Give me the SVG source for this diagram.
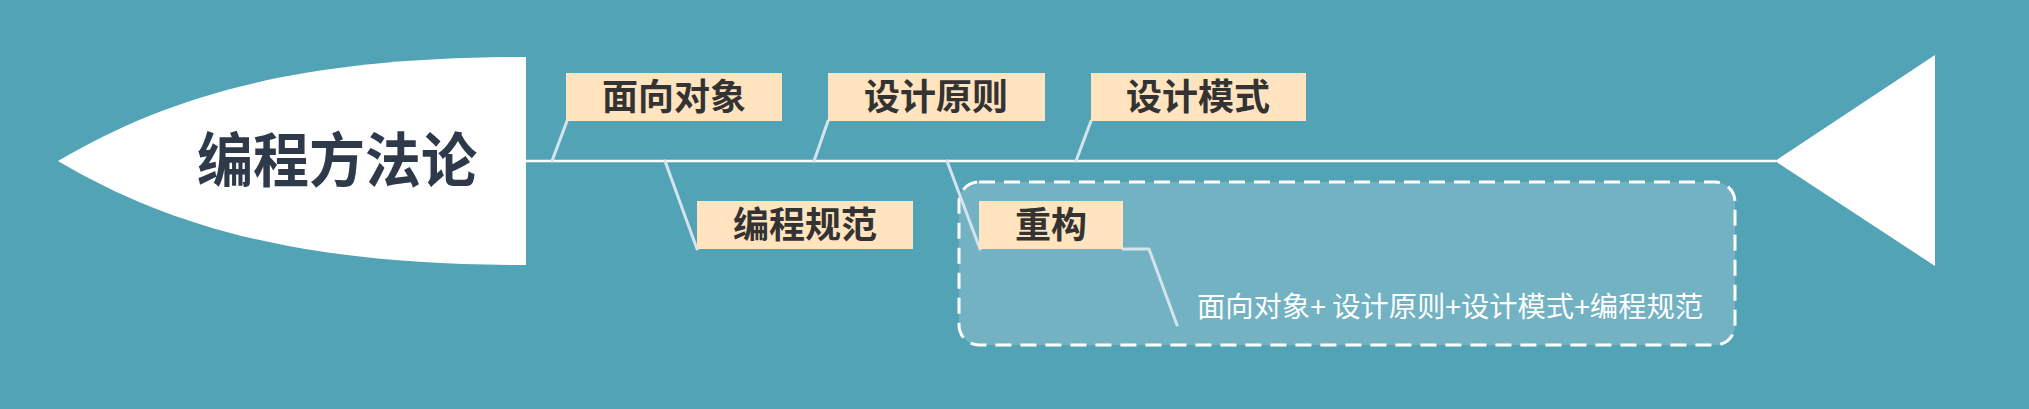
<svg xmlns="http://www.w3.org/2000/svg" width="2029" height="409" viewBox="0 0 2029 409">
<style>
.lbl{fill:#FFE4BF}
.lt{font-family:"Noto Sans CJK SC","Noto Sans",sans-serif;font-weight:700;font-size:36px;fill:#333333;text-anchor:middle}
.conn{stroke:#D4E4EC;stroke-width:3;fill:none;stroke-linecap:round;stroke-linejoin:round}
</style>
<rect x="0" y="0" width="2029" height="409" fill="#52A3B5"/>
<g id="head">
<path d="M58,161 C170,95 300,57 526,57 L526,265 C300,265 170,227 58,161 Z" fill="#FFFFFF"/>
<text x="197" y="182" font-family="Noto Sans CJK SC, sans-serif" font-weight="700" font-size="59" fill="#2E3A4A" textLength="280" lengthAdjust="spacingAndGlyphs">编程方法论</text>
</g>
<g id="spine">
<line x1="526" y1="161" x2="1776" y2="161" stroke="#FFFFFF" stroke-width="2.5"/>
</g>
<g id="tail">
<polygon points="1775,161 1935,55 1935,266" fill="#FFFFFF"/>
</g>
<g id="refactor-area">
<rect x="959" y="182" width="776" height="163" rx="20" ry="20" fill="#72B2C2" stroke="#FFFFFF" stroke-width="3" stroke-dasharray="16 9"/>
<text x="1197" y="317" font-family="Noto Sans CJK SC, sans-serif" font-size="28" fill="#FFFFFF" textLength="506" lengthAdjust="spacingAndGlyphs">面向对象+ 设计原则+设计模式+编程规范</text>
</g>
<g id="connectors">
<path class="conn" d="M567,121 L552,161"/>
<path class="conn" d="M828,121 L814,161"/>
<path class="conn" d="M1091,121 L1076,161"/>
<path class="conn" d="M665,161 L697,249"/>
<path class="conn" d="M947,161 L980,249"/>
<path class="conn" d="M1123,249 L1149,249 L1177,325"/>
</g>
<g id="node-oo">
<rect class="lbl" x="566" y="73" width="216" height="48"/>
<text class="lt" x="674" y="110">面向对象</text>
</g>
<g id="node-principles">
<rect class="lbl" x="828" y="73" width="217" height="48"/>
<text class="lt" x="936" y="110">设计原则</text>
</g>
<g id="node-patterns">
<rect class="lbl" x="1091" y="73" width="215" height="48"/>
<text class="lt" x="1198" y="110">设计模式</text>
</g>
<g id="node-conventions">
<rect class="lbl" x="697" y="201" width="216" height="48"/>
<text class="lt" x="805" y="238">编程规范</text>
</g>
<g id="node-refactor">
<rect class="lbl" x="979" y="201" width="144" height="48"/>
<text class="lt" x="1051" y="238">重构</text>
</g>
</svg>
